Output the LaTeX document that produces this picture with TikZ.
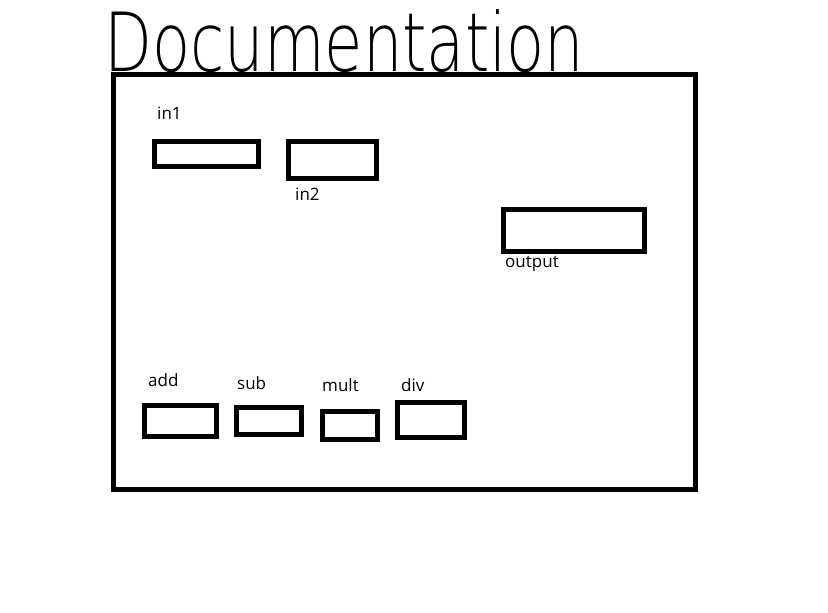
\documentclass[tikz,border=0pt]{standalone}
\usepackage{fontspec}
\setmainfont{Open Sans}
\newfontfamily\titlefont{DejaVu Sans ExtraLight}
\begin{document}
\begin{tikzpicture}[x=1pt,y=-1pt,
  box/.style={draw=black,line width=5pt,rectangle,inner sep=0pt,fill=none},
  lbl/.style={font=\fontsize{17}{19}\selectfont,inner sep=0pt,anchor=base west,text=black}]
\useasboundingbox[fill=white] (0,0) rectangle (828,613);
% title
\node[anchor=south west,inner sep=0pt] (title) at (104,73) {\resizebox{480pt}{62pt}{\titlefont Documentation}};
% frame
\node[box,minimum width=582.5pt,minimum height=414.5pt] (frame) at (404.25,281.75) {};
% inputs
\node[box,minimum width=104pt,minimum height=25pt] (in1) at (206.5,154) {};
\node[box,minimum width=87.5pt,minimum height=37pt] (in2) at (332.25,160) {};
\node[box,minimum width=141pt,minimum height=42pt] (out) at (574,230.5) {};
% operations
\node[box,minimum width=72pt,minimum height=31pt] (add) at (180.5,421) {};
\node[box,minimum width=65pt,minimum height=27pt] (sub) at (269,421) {};
\node[box,minimum width=55pt,minimum height=28pt] (mult) at (350,425.5) {};
\node[box,minimum width=67pt,minimum height=35pt] (div) at (431,420) {};
% labels
\node[lbl] (in1l) at (157,119) {in1};
\node[lbl] (in2l) at (295,200) {in2};
\node[lbl] (outl) at (505,267) {output};
\node[lbl] (addl) at (148,386) {add};
\node[lbl] (subl) at (237,389) {sub};
\node[lbl] (multl) at (322,391) {mult};
\node[lbl] (divl) at (401,391) {div};
\end{tikzpicture}
\end{document}
